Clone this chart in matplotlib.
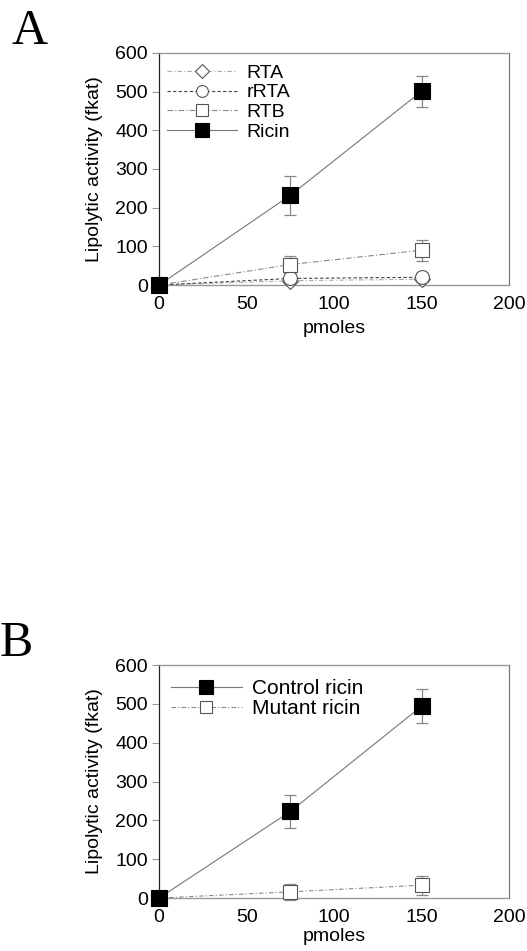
import matplotlib
matplotlib.use("Agg")
import matplotlib.pyplot as plt

plt.rcParams['font.family'] = ['Liberation Sans', 'DejaVu Sans']

# panel A data
doses = [0, 75, 150]
rta = [0, 11, 15]
rta_err = [0, 4, 8]
rrta = [0, 17, 20]
rrta_err = [0, 5, 10]
rtb = [0, 53, 90]
rtb_err = [0, 22, 27]
ricin = [0, 232, 501]
ricin_err = [0, 50, 40]

# panel B data
control = [0, 223, 494]
control_err = [0, 42, 44]
mutant = [0, 16, 33]
mutant_err = [0, 20, 24]

x_ticks = [0, 50, 100, 150, 200]
y_ticks = [0, 100, 200, 300, 400, 500, 600]

fig = plt.figure(figsize=(5.27, 9.51), dpi=100)


def style_axes(ax):
	ax.set_xlim(0, 200)
	ax.set_ylim(0, 600)
	ax.set_xticks(x_ticks)
	ax.set_yticks(y_ticks)
	ax.tick_params(axis='y', length=5, width=0.8, color='#999999', pad=3, labelsize=14)
	ax.tick_params(axis='x', length=0, pad=8, labelsize=14)
	ax.spines['left'].set_color('#222222')
	ax.spines['left'].set_linewidth(0.9)
	ax.spines['right'].set_color('#777777')
	ax.spines['right'].set_linewidth(0.9)
	for side in ('top', 'bottom'):
		ax.spines[side].set_color('#999999')
		ax.spines[side].set_linewidth(1.0)
		ax.spines[side].set_linestyle((0, (1, 1)))
	ax.set_ylabel("Lipolytic activity (fkat)", fontsize=14, labelpad=9)
	ax.set_xlabel("pmoles", fontsize=14, labelpad=1)


def series(ax, y, err, marker, face, ls, lcolor, label, ms=11, z=3):
	edge = '#555555' if face == 'white' else 'black'
	ax.errorbar(doses, y, yerr=err, fmt='none', ecolor='#888888',
		elinewidth=0.9, capsize=4, capthick=0.9, zorder=z - 1, clip_on=False)
	ax.plot(doses, y, color=lcolor, ls=ls, lw=0.8, marker=marker, ms=ms,
		mfc=face, mec=edge, mew=0.8, label=label, zorder=z, clip_on=False)


axA = fig.add_axes([0.302, 0.7003, 0.664, 0.244])
series(axA, rta, rta_err, 'D', 'white', (0, (4, 2, 1, 2)), '#aaaaaa', 'RTA', ms=8)
series(axA, rrta, rrta_err, 'o', 'white', (0, (3, 2)), '#444444', 'rRTA', ms=10)
series(axA, rtb, rtb_err, 's', 'white', (0, (5, 2, 1, 2)), '#888888', 'RTB', ms=10)
series(axA, ricin, ricin_err, 's', 'black', '-', '#777777', 'Ricin', ms=12, z=5)
style_axes(axA)
axA.xaxis.labelpad = 5
axA.legend(loc='upper left', bbox_to_anchor=(0.0, 0.985), frameon=False,
	fontsize=14, handlelength=3.6, handletextpad=0.5, labelspacing=0.1,
	borderaxespad=0, markerscale=0.85)

axB = fig.add_axes([0.302, 0.0557, 0.664, 0.245])
series(axB, control, control_err, 's', 'black', '-', '#777777', 'Control ricin', ms=12, z=5)
series(axB, mutant, mutant_err, 's', 'white', (0, (4, 2, 1, 2)), '#888888', 'Mutant ricin', ms=10)
style_axes(axB)
axB.legend(loc='upper left', bbox_to_anchor=(0.01, 0.975), frameon=False,
	fontsize=15, handlelength=3.4, handletextpad=0.5, labelspacing=0.05,
	borderaxespad=0, markerscale=0.85)

fig.text(0.022, 0.967, "A", family='Liberation Serif', fontsize=36, va='center', ha='left')
fig.text(0.0, 0.323, "B", family='Liberation Serif', fontsize=36, va='center', ha='left')

fig.savefig("out.png", dpi=100)
